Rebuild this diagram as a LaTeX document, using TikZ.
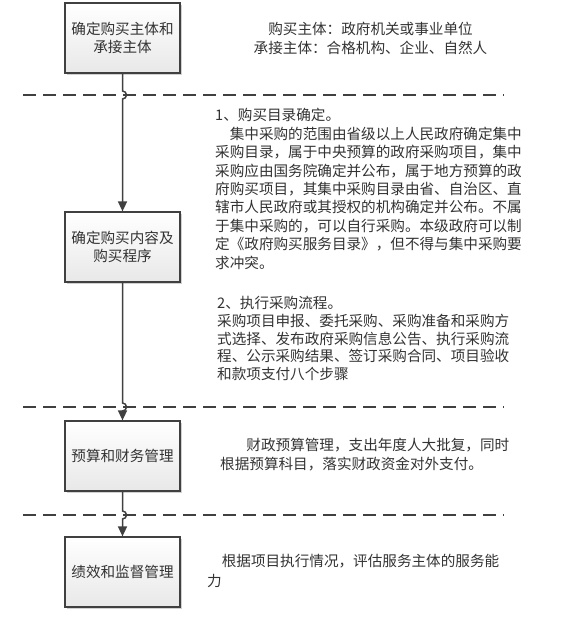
\documentclass[tikz,border=0pt]{standalone}
\usepackage{fontspec}
\newfontfamily\cjk{Noto Sans CJK SC}
\usetikzlibrary{arrows.meta,shadows,calc}
\definecolor{txt}{HTML}{333333}
\definecolor{ln}{HTML}{404040}
\begin{document}
\begin{tikzpicture}[x=1pt,y=1pt,
  stepbox/.style={draw=ln, line width=1.2pt, top color=white, bottom color=black!9,
    minimum width=115pt, minimum height=70pt, inner sep=0pt, align=center,
    font=\cjk\fontsize{14.6}{18.5}\selectfont, text=txt,
    drop shadow={shadow xshift=2pt, shadow yshift=-2pt, opacity=0.18, fill=black}},
  note/.style={inner sep=0pt, align=left, anchor=north west, text=txt},
  sep/.style={draw=ln, line width=1.8pt, dash pattern=on 13pt off 7pt},
  conn/.style={draw=ln, line width=1.5pt, -{Triangle[length=10pt,width=9pt]}}]
\useasboundingbox (0,0) rectangle (575,620);
\fill[white] (0,0) rectangle (575,620);

% boxes
\node[stepbox] (b1) at (122.5,582) {确定购买主体和\\承接主体};
\node[stepbox] (b2) at (122.5,373) {确定购买内容及\\购买程序};
\node[stepbox] (b3) at (122.5,164) {预算和财务管理};
\node[stepbox] (b4) at (122.5,48) {绩效和监督管理};

% separators
\coordinate (s1l) at (23,525); \coordinate (s1r) at (504,525);
\coordinate (s2l) at (23,213); \coordinate (s2r) at (504,213);
\coordinate (s3l) at (23,105); \coordinate (s3r) at (504,105);
\draw[sep] (s1l) -- (s1r);
\draw[sep] (s2l) -- (s2r);
\draw[sep] (s3l) -- (s3r);

% connectors with hops
\draw[conn] (b1.south) -- ($(b1.south |- s1l)+(0,4)$) arc[start angle=90,end angle=-90,radius=4] -- (b2.north);
\draw[conn] (b2.south) -- ($(b2.south |- s2l)+(0,4)$) arc[start angle=90,end angle=-90,radius=4] -- (b3.north);
\draw[conn] (b3.south) -- ($(b3.south |- s3l)+(0,4)$) arc[start angle=90,end angle=-90,radius=4] -- (b4.north);

% texts
\node[inner sep=0pt, align=center, text=txt, font=\cjk\fontsize{14.6}{19}\selectfont] (t1) at (370.5,581.5)
  {购买主体：政府机关或事业单位\\承接主体：合格机构、企业、自然人};

\node[note, font=\cjk\fontsize{14.6}{18.4}\selectfont] (t2) at (215,511.6)
  {1、购买目录确定。\\
   \hspace*{1em}集中采购的范围由省级以上人民政府确定集中\\
   采购目录，属于中央预算的政府采购项目，集中\\
   采购应由国务院确定并公布，属于地方预算的政\\
   府购买项目，其集中采购目录由省、自治区、直\\
   辖市人民政府或其授权的机构确定并公布。不属\\
   于集中采购的，可以自行采购。本级政府可以制\\
   定《政府购买服务目录》，但不得与集中采购要\\
   求冲突。};

\node[note, font=\cjk\fontsize{14.6}{17.6}\selectfont] (t3) at (217,323.6)
  {2、执行采购流程。\\
   采购项目申报、委托采购、采购准备和采购方\\
   式选择、发布政府采购信息公告、执行采购流\\
   程、公示采购结果、签订采购合同、项目验收\\
   和款项支付八个步骤};

\node[note, font=\cjk\fontsize{14.6}{19}\selectfont] (t4) at (220,181.6)
  {\hspace*{1.8em}财政预算管理，支出年度人大批复，同时\\
   根据预算科目，落实财政资金对外支付。};

\node[note, font=\cjk\fontsize{14.6}{20}\selectfont] (t5) at (207,65.6)
  {\hspace*{1em}根据项目执行情况，评估服务主体的服务能\\
   力};
\end{tikzpicture}
\end{document}
